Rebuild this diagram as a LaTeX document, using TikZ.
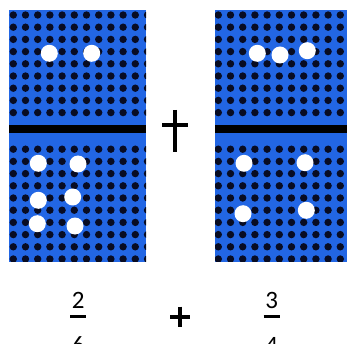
\documentclass[tikz,border=0pt]{standalone}
\usepackage{fontspec}
\setmainfont{Carlito}
\begin{document}
\begin{tikzpicture}[x=1pt,y=-1pt,
  dblue/.style={fill={rgb,255:red,34;green,102;blue,228}},
  hole/.style={fill={rgb,255:red,8;green,12;blue,35}},
  pip/.style={circle,fill=white,minimum size=17pt,inner sep=0pt},
  num/.style={font=\fontsize{25}{25}\selectfont,anchor=base,inner sep=0pt},
  fbar/.style={line width=2.7pt}]
\useasboundingbox (0,0) rectangle (347,344);
\clip (0,0) rectangle (347,344);
% left domino
\begin{scope}
  \clip (9,10) rectangle (146,261.5);
  \fill[dblue] (9,10) rectangle (146,261.5);
  \foreach \i in {0,...,11}
    \foreach \j in {0,...,8,11,12,...,20}
      \fill[hole] ({13.3+\i*12.2},{15+\j*12.2}) circle (3.7pt);
  \fill[black] (9,124.8) rectangle (146,133.5);
\end{scope}
% right domino
\begin{scope}
  \clip (215,10) rectangle (360,261.5);
  \fill[dblue] (215,10) rectangle (360,261.5);
  \foreach \i in {0,...,11}
    \foreach \j in {0,...,8,11,12,...,20}
      \fill[hole] ({218.3+\i*12.2},{15+\j*12.2}) circle (3.7pt);
  \fill[black] (215,124.8) rectangle (360,133.5);
\end{scope}
% pips left
\node[pip] (l1) at (49.3,53.3) {};
\node[pip] (l2) at (91.7,53.3) {};
\node[pip] (l3) at (38.3,163.3) {};
\node[pip] (l4) at (78,164) {};
\node[pip] (l5) at (38.3,200.3) {};
\node[pip] (l6) at (72.7,197) {};
\node[pip] (l7) at (37.3,223.7) {};
\node[pip] (l8) at (75,226) {};
% pips right
\node[pip] (r1) at (257.3,53.3) {};
\node[pip] (r2) at (280,55) {};
\node[pip] (r3) at (307.3,50.7) {};
\node[pip] (r4) at (244,163.3) {};
\node[pip] (r5) at (305,162.7) {};
\node[pip] (r6) at (243,213.7) {};
\node[pip] (r7) at (306.3,210.3) {};
% plus between dominoes
\coordinate (ph1) at (162,125);
\coordinate (ph2) at (188,125);
\coordinate (pv1) at (175,110);
\coordinate (pv2) at (175,152);
\draw[line width=3.2pt] (ph1) -- (ph2) (pv1) -- (pv2);
% fractions
\node[num] (n1) at (78.3,308) {2};
\coordinate (b1a) at (70,316.7);
\coordinate (b1b) at (86,316.7);
\draw[fbar] (b1a) -- (b1b);
\node[num] (d1) at (78.3,353) {6};
\coordinate (qh1) at (170,316.7);
\coordinate (qh2) at (190,316.7);
\coordinate (qv1) at (180,306.7);
\coordinate (qv2) at (180,326.7);
\draw[line width=3.6pt] (qh1) -- (qh2) (qv1) -- (qv2);
\node[num] (n2) at (271.7,308) {3};
\coordinate (b2a) at (263.5,316.7);
\coordinate (b2b) at (279.5,316.7);
\draw[fbar] (b2a) -- (b2b);
\node[num] (d2) at (271.7,353) {4};
\end{tikzpicture}
\end{document}
